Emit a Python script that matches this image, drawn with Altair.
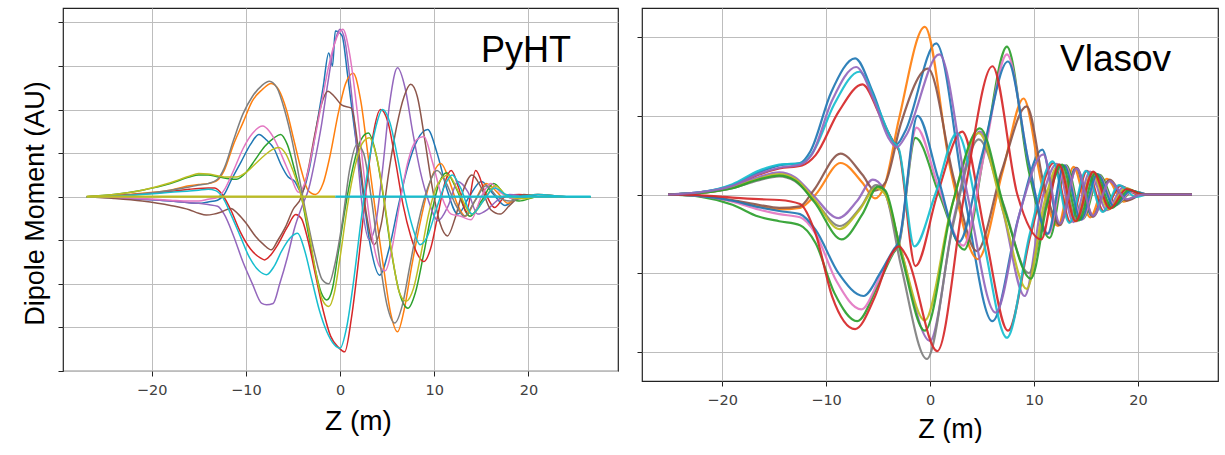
import altair as alt
import pandas as pd

TAB10 = {"blue": "#1f77b4", "orange": "#ff7f0e", "green": "#2ca02c", "red": "#d62728",
         "purple": "#9467bd", "brown": "#8c564b", "pink": "#e377c2", "gray": "#7f7f7f",
         "olive": "#bcbd22", "cyan": "#17becf"}

X_TICKS = [-20, -10, 0, 10, 20]
PYHT_Y_TICKS = [-4, -3, -2, -1, 0, 1, 2, 3, 4]
VLASOV_Y_TICKS = [-2, -1, 0, 1, 2]

# ---------------- PyHT panel (z [m], dipole moment in grid units) ----------------
pyht_blue = [(-26.9, 0), (-24, -0.02), (-21, -0.06), (-18, -0.1), (-16, -0.14), (-15, -0.15), (-14, -0.12),
             (-13, -0.08), (-12.3, 0.05), (-11.5, 0.4), (-10.5, 0.8), (-9.5, 1.2), (-8.6, 1.43), (-7.8, 1.3),
             (-7, 1.1), (-6.3, 0.75), (-5.5, 0.45), (-4.8, 0.35), (-4.1, 0.1), (-3.3, 0.6), (-2.5, 1.6),
             (-1.8, 2.5), (-1.2, 3.3), (-0.8, 3.0), (-0.5, 3.8), (0.2, 3.7), (0.8, 2.8), (1.5, 1.6), (2.3, 0.3),
             (3.2, -1.1), (4.2, -1.8), (5.2, -1.2), (6.2, -0.2), (7.2, 0.7), (8.2, 1.3), (9.3, 1.54), (10.3, 1.0),
             (11.3, 0.2), (12.5, -0.4), (13.7, 0.0), (15, 0.35), (16.3, 0.05), (17.5, -0.2), (19, 0.0),
             (21, 0.05), (24, 0.0), (26.6, 0)]
pyht_orange = [(-26.9, 0), (-24, 0.02), (-21, 0.08), (-18, 0.15), (-16, 0.25), (-15, 0.28), (-14, 0.3),
               (-13, 0.38), (-12.3, 0.6), (-11.3, 1.2), (-10.3, 1.7), (-9.3, 2.2), (-8.3, 2.45), (-7.3, 2.6),
               (-6.5, 2.45), (-5.7, 2.0), (-4.9, 1.3), (-4.1, 0.6), (-3.4, 0.15), (-2.6, 0.05), (-1.8, 0.3),
               (-1.0, 1.0), (-0.2, 1.9), (0.6, 2.6), (1.4, 2.83), (2.2, 2.2), (3.0, 0.9), (3.8, -0.4),
               (4.6, -1.6), (5.4, -2.7), (6.1, -3.1), (6.8, -2.6), (7.6, -1.6), (8.5, -0.6), (9.5, 0.3),
               (10.7, 0.76), (11.7, 0.3), (12.5, -0.2), (13.3, -0.45), (14.3, -0.1), (15.5, 0.3), (16.7, 0.1),
               (17.8, -0.15), (19, 0.0), (21, 0.05), (24, 0), (26.6, 0)]
pyht_green = [(-26.9, 0), (-24, 0.05), (-21, 0.15), (-18, 0.3), (-16, 0.45), (-15, 0.5), (-14, 0.5),
              (-13, 0.46), (-12, 0.42), (-11, 0.4), (-10, 0.55), (-9, 0.85), (-8, 1.15), (-7, 1.35),
              (-6.3, 1.43), (-5.6, 1.2), (-4.8, 0.6), (-4.1, 0.0), (-3.4, -0.8), (-2.7, -1.6), (-2.0, -2.2),
              (-1.4, -2.37), (-0.8, -2.1), (-0.2, -1.3), (0.6, -0.2), (1.4, 0.7), (2.2, 1.3), (3.0, 1.46),
              (3.8, 1.0), (4.6, 0.0), (5.4, -1.2), (6.3, -2.2), (7.2, -2.56), (8.0, -2.2), (8.8, -1.4),
              (9.6, -0.5), (10.5, 0.3), (11.3, 0.55), (12.3, 0.2), (13.8, -0.45), (15, -0.1), (16.3, 0.3),
              (17.5, 0.05), (19, -0.1), (21, 0), (24, 0), (26.6, 0)]
pyht_red = [(-26.9, 0), (-24, 0.02), (-21, 0.06), (-18, 0.12), (-16, 0.17), (-15, 0.19), (-14, 0.2),
            (-13.3, 0.2), (-12.5, 0.05), (-11.6, -0.3), (-10.6, -0.8), (-9.5, -1.2), (-8.5, -1.4), (-8.0, -1.45),
            (-7.4, -1.35), (-6.6, -1.1), (-5.6, -0.7), (-4.7, -0.41), (-4.1, -0.5), (-3.4, -1.0), (-2.6, -1.8),
            (-1.8, -2.6), (-1.0, -3.2), (-0.2, -3.45), (0.5, -3.56), (1.2, -2.8), (2.0, -1.4), (2.8, 0.2),
            (3.5, 1.4), (4.3, 2.0), (5.1, 1.7), (5.9, 0.8), (6.7, -0.2), (7.5, -0.9), (8.3, -1.35),
            (8.9, -1.49), (9.6, -1.2), (10.4, -0.4), (11.1, 0.3), (11.8, 0.6), (12.6, 0.2), (13.4, -0.35),
            (14.4, 0.6), (15.4, 0.1), (16.4, -0.25), (17.5, 0.0), (19, 0.05), (21, 0), (24, 0), (26.6, 0)]
pyht_purple = [(-26.9, 0), (-24, -0.02), (-21, -0.06), (-18, -0.1), (-16, -0.14), (-15, -0.15), (-14, -0.18),
               (-13, -0.22), (-12.3, -0.4), (-11.3, -0.9), (-10.3, -1.5), (-9.3, -2.0), (-8.3, -2.45),
               (-7.8, -2.48), (-7.1, -2.45), (-6.4, -2.0), (-5.6, -1.4), (-4.8, -0.7), (-4.0, -0.2), (-3.3, 0.2),
               (-2.6, 0.9), (-2.0, 1.6), (-1.3, 2.6), (-0.6, 3.5), (0.0, 3.84), (0.5, 3.6), (1.1, 2.6),
               (1.7, 1.3), (2.4, -0.3), (3.1, -0.99), (3.8, -0.6), (4.5, 0.6), (5.3, 2.2), (6.1, 2.96),
               (6.9, 2.5), (7.7, 1.5), (8.5, 0.6), (9.4, -0.1), (10.4, -0.55), (11.5, -0.2), (12.5, 0.35),
               (13.6, 0.1), (14.6, -0.4), (15.6, -0.3), (16.6, -0.1), (18, 0.05), (20, 0), (24, 0), (26.6, 0)]
pyht_brown = [(-26.9, 0), (-24, -0.04), (-21, -0.1), (-18, -0.2), (-16, -0.3), (-15, -0.38), (-14.2, -0.42),
              (-13.4, -0.4), (-12.6, -0.35), (-11.6, -0.27), (-10.8, -0.4), (-10, -0.6), (-9, -0.9),
              (-8.1, -1.1), (-7.3, -1.22), (-6.6, -1.0), (-5.8, -0.7), (-5, -0.3), (-4.1, 0.0), (-3.4, 0.6),
              (-2.7, 1.4), (-2.0, 2.1), (-1.3, 2.42), (-0.6, 2.3), (0.2, 2.1), (1.2, 2.03), (2.0, 1.0),
              (2.8, -0.4), (3.6, -1.1), (4.4, -0.6), (5.2, 0.6), (6.0, 1.6), (6.8, 2.3), (7.5, 2.58),
              (8.2, 2.3), (9.0, 1.3), (9.8, 0.2), (10.6, -0.6), (11.4, -0.9), (12.2, -0.5), (13, 0.1),
              (14, 0.5), (15, 0.2), (16, -0.3), (17, -0.4), (18, -0.2), (19.5, 0.05), (21, 0), (24, 0),
              (26.6, 0)]
pyht_pink = [(-26.9, 0), (-24, -0.01), (-21, -0.04), (-18, -0.08), (-16, -0.1), (-15, -0.1), (-14, -0.06),
             (-13, -0.02), (-12.3, 0.15), (-11.3, 0.6), (-10.3, 1.1), (-9.3, 1.45), (-8.2, 1.62), (-7.5, 1.5),
             (-6.8, 1.25), (-6.0, 0.85), (-5.2, 0.45), (-4.4, 0.1), (-3.6, 0.4), (-2.8, 1.2), (-2.0, 2.1),
             (-1.3, 2.9), (-0.6, 3.5), (0.3, 3.84), (1.0, 3.3), (1.8, 2.0), (2.6, 0.4), (3.4, -0.9),
             (4.2, -1.6), (4.8, -1.7), (5.5, -1.2), (6.3, -0.2), (7.2, 0.8), (8.1, 1.3), (8.9, 1.38),
             (9.8, 0.8), (10.8, 0.0), (11.8, -0.4), (12.8, -0.45), (13.9, -0.53), (15, 0.0), (16, 0.3),
             (17, 0.1), (18.5, -0.05), (21, 0), (24, 0), (26.6, 0)]
pyht_gray = [(-26.9, 0), (-24, 0.02), (-21, 0.07), (-18, 0.15), (-16, 0.22), (-15, 0.27), (-14, 0.3),
             (-13, 0.4), (-12.3, 0.65), (-11.3, 1.3), (-10.3, 1.9), (-9.3, 2.3), (-8.3, 2.55), (-7.5, 2.65),
             (-6.7, 2.5), (-5.9, 2.0), (-5.1, 1.3), (-4.3, 0.4), (-3.5, -0.5), (-2.7, -1.3), (-1.9, -1.9),
             (-1.2, -2.0), (-0.5, -1.5), (0.3, -0.5), (1.0, 0.6), (1.8, 1.2), (2.5, 1.0), (3.3, 0.0),
             (4.1, -1.3), (5.0, -2.5), (5.8, -2.9), (6.6, -2.5), (7.4, -1.6), (8.3, -0.6), (9.3, 0.2),
             (10.3, 0.6), (11.3, 0.3), (12.3, -0.2), (13.2, -0.45), (14.3, -0.1), (15.5, 0.25), (16.7, 0.0),
             (18, -0.1), (20, 0.0), (24, 0), (26.6, 0)]
pyht_olive = [(-26.9, 0), (-24, 0.05), (-21, 0.15), (-18, 0.32), (-16, 0.47), (-15, 0.53), (-14, 0.52),
              (-13, 0.48), (-12, 0.45), (-11, 0.45), (-10, 0.55), (-9, 0.75), (-8, 0.95), (-7.2, 1.08),
              (-6.5, 1.13), (-5.8, 1.0), (-5, 0.6), (-4.1, 0.0), (-3.3, -0.8), (-2.6, -1.7), (-1.9, -2.35),
              (-1.2, -2.52), (-0.6, -2.2), (0.0, -1.4), (0.8, -0.2), (1.6, 0.7), (2.3, 1.2), (3.1, 1.35),
              (3.9, 0.9), (4.7, -0.1), (5.5, -1.3), (6.3, -2.2), (7.0, -2.4), (7.8, -2.1), (8.6, -1.3),
              (9.4, -0.4), (10.4, 0.3), (11.5, 0.5), (12.6, 0.1), (14, -0.4), (15.2, -0.1), (16.5, 0.25),
              (17.8, 0.0), (19.5, -0.05), (21, 0), (24, 0), (26.6, 0)]
pyht_cyan = [(-26.9, 0), (-24, 0.01), (-21, 0.05), (-18, 0.1), (-16, 0.13), (-15, 0.15), (-14, 0.17),
             (-13.2, 0.14), (-12.5, 0.0), (-11.6, -0.4), (-10.6, -0.9), (-9.6, -1.4), (-8.6, -1.7),
             (-7.8, -1.79), (-7.0, -1.6), (-6.2, -1.25), (-5.3, -0.95), (-4.5, -0.84), (-3.8, -1.2),
             (-3.0, -1.9), (-2.2, -2.6), (-1.4, -3.1), (-0.6, -3.4), (0.0, -3.48), (0.7, -3.0), (1.4, -2.0),
             (2.2, -0.6), (3.0, 0.7), (3.8, 1.6), (4.5, 2.0), (5.3, 1.7), (6.1, 0.9), (6.9, 0.0), (7.7, -0.7),
             (8.5, -1.1), (9.3, -0.9), (10.2, -0.3), (11.2, 0.3), (11.9, 0.5), (12.8, 0.2), (14, -0.4),
             (15.2, -0.1), (16.4, 0.2), (17.6, 0.05), (19, 0.0), (21, 0.05), (24, 0), (26.6, 0)]
pyht_flat_olive = [(-26.9, 0), (-0.5, 0)]
pyht_flat_cyan = [(-0.5, 0), (26.6, 0)]

PYHT_CURVES = [("p01", "blue", pyht_blue), ("p02", "orange", pyht_orange), ("p03", "green", pyht_green),
               ("p04", "red", pyht_red), ("p05", "purple", pyht_purple), ("p06", "brown", pyht_brown),
               ("p07", "pink", pyht_pink), ("p08", "gray", pyht_gray), ("p09", "olive", pyht_olive),
               ("p10", "cyan", pyht_cyan)]
PYHT_FLATS = [("f1", "olive", pyht_flat_olive), ("f2", "cyan", pyht_flat_cyan)]

# ---------------- Vlasov panel ----------------
vl_blue_a = [(-25.2, 0), (-22, 0.03), (-19, 0.12), (-16.5, 0.28), (-14.5, 0.37), (-12.5, 0.40), (-11.5, 0.55),
             (-9.5, 1.3), (-7.2, 1.73), (-5.5, 1.3), (-4.0, 0.78), (-3.2, 0.64), (-2.4, 0.8), (0.6, 1.92),
             (3.3, 0.0), (6.0, -1.61), (8.5, -0.3), (10.8, 0.57), (12.4, -0.38), (14.0, 0.34), (15.6, -0.28),
             (17.2, 0.18), (18.8, -0.07), (20.5, 0), (25.2, 0)]
vl_purple_b = [(-25.2, 0), (-22, 0.03), (-19, 0.11), (-16.5, 0.26), (-14.5, 0.34), (-12.5, 0.38), (-11.4, 0.5),
               (-9.4, 1.2), (-7.1, 1.62), (-5.4, 1.2), (-4.0, 0.72), (-3.2, 0.60), (-2.3, 0.75), (0.9, 1.78),
               (3.6, 0.0), (6.3, -1.5), (8.7, -0.2), (10.9, 0.51), (12.5, -0.37), (14.1, 0.33), (15.7, -0.27),
               (17.3, 0.17), (18.9, -0.06), (20.5, 0), (25.2, 0)]
vl_cyan_a = [(-25.2, 0), (-22, 0.03), (-19, 0.13), (-16.5, 0.30), (-14.5, 0.38), (-12.3, 0.40), (-11.2, 0.55),
             (-9.2, 1.15), (-6.8, 1.56), (-5.0, 1.1), (-3.6, 0.68), (-3.0, 0.58), (-1.5, -0.66), (0.5, 0.0),
             (2.6, 0.78), (5.0, -0.5), (7.4, -1.82), (9.6, -0.5), (11.8, 0.42), (13.4, -0.36), (15.0, 0.3),
             (16.6, -0.22), (18.2, 0.12), (19.8, -0.03), (21, 0), (25.2, 0)]
vl_red_a = [(-25.2, 0), (-22, 0.02), (-19, 0.1), (-16.5, 0.25), (-14.5, 0.33), (-12.3, 0.37), (-11.0, 0.5),
            (-8.8, 1.05), (-6.5, 1.40), (-4.8, 1.0), (-3.5, 0.66), (-3.0, 0.56), (-1.4, -0.91), (0.7, 0.0),
            (3.1, 0.80), (5.3, -0.5), (7.5, -1.73), (9.7, -0.5), (11.9, 0.4), (13.5, -0.35), (15.1, 0.3),
            (16.7, -0.21), (18.3, 0.11), (20, 0), (25.2, 0)]
vl_blue_b = [(-25.2, 0), (-22, -0.02), (-19, -0.08), (-16.5, -0.16), (-14.5, -0.21), (-12.5, -0.25),
             (-11.0, -0.45), (-8.8, -1.0), (-6.4, -1.29), (-4.8, -1.0), (-3.5, -0.70), (-3.0, -0.60),
             (-1.2, 1.0), (0.8, 0.2), (2.8, -0.6), (5.0, 0.5), (7.5, 1.69), (9.5, 0.4), (11.3, -0.5),
             (12.9, 0.37), (14.5, -0.32), (16.1, 0.26), (17.7, -0.15), (19.3, 0.05), (21, 0), (25.2, 0)]
vl_pink_a = [(-25.2, 0), (-22, -0.02), (-19, -0.09), (-16.5, -0.19), (-14.5, -0.25), (-12.5, -0.29),
             (-11.0, -0.5), (-9.0, -1.1), (-6.6, -1.46), (-4.8, -1.05), (-3.5, -0.72), (-3.0, -0.62),
             (-1.3, 0.85), (0.8, 0.1), (3.2, -0.65), (5.2, 0.5), (7.4, 1.78), (9.5, 0.4), (11.4, -0.5),
             (13.0, 0.37), (14.6, -0.32), (16.2, 0.25), (17.8, -0.14), (19.4, 0.04), (21, 0), (25.2, 0)]
vl_green_a = [(-25.2, 0), (-22, -0.03), (-19, -0.13), (-16.5, -0.28), (-14.5, -0.34), (-12.5, -0.39),
              (-11.0, -0.62), (-9.2, -1.25), (-7.0, -1.61), (-5.0, -1.15), (-3.5, -0.74), (-3.0, -0.64),
              (-1.4, 0.72), (0.9, 0.0), (3.3, -0.70), (5.3, 0.6), (7.4, 1.88), (9.5, 0.3), (11.5, -0.55),
              (13.1, 0.37), (14.7, -0.31), (16.3, 0.25), (17.9, -0.13), (19.5, 0.04), (21, 0), (25.2, 0)]
vl_red_b = [(-25.2, 0), (-22, -0.01), (-19, -0.04), (-16.5, -0.06), (-14.5, -0.07), (-12.5, -0.12),
            (-11.0, -0.5), (-9.4, -1.3), (-7.2, -1.71), (-5.3, -1.3), (-3.8, -0.78), (-3.0, -0.66),
            (-2.2, -0.8), (0.7, -1.99), (3.3, 0.0), (6.0, 1.63), (8.4, 0.0), (10.7, -0.57), (12.4, 0.38),
            (14.0, -0.34), (15.7, 0.29), (17.3, -0.18), (18.9, 0.07), (20.5, 0), (25.2, 0)]
vl_orange_a = [(-25.2, 0), (-22, -0.02), (-19, -0.08), (-16.5, -0.15), (-14.5, -0.19), (-12.5, -0.17),
               (-11.0, 0.0), (-8.6, 0.40), (-6.5, 0.15), (-5.3, -0.05), (-4.4, 0.1), (-3.0, 0.95),
               (-0.5, 2.13), (2.0, 0.3), (4.6, -0.82), (7.0, 0.3), (9.0, 1.22), (10.8, 0.1), (12.3, -0.4),
               (13.8, 0.35), (15.4, -0.29), (17.0, 0.2), (18.6, -0.09), (20.2, 0), (25.2, 0)]
vl_brown_a = [(-25.2, 0), (-22, -0.02), (-19, -0.07), (-16.5, -0.13), (-14.5, -0.17), (-12.5, -0.15),
              (-11.2, 0.05), (-8.6, 0.52), (-6.5, 0.25), (-5.3, 0.05), (-4.3, 0.15), (-2.8, 0.9),
              (-0.2, 1.6), (2.3, 0.2), (4.5, -0.72), (6.9, 0.3), (9.3, 1.12), (11.0, 0.1), (12.5, -0.39),
              (14.1, 0.34), (15.7, -0.28), (17.3, 0.19), (18.9, -0.08), (20.5, 0), (25.2, 0)]
vl_purple_a = [(-25.2, 0), (-22, 0.03), (-19, 0.1), (-16.5, 0.22), (-14.5, 0.28), (-13.0, 0.22), (-11.3, 0.0),
               (-8.8, -0.30), (-7.0, -0.08), (-5.5, 0.19), (-4.5, 0.08), (-3.0, -0.6), (0.0, -1.86),
               (2.3, -0.3), (4.8, 0.8), (7.0, -0.2), (9.1, -1.29), (10.9, 0.0), (12.2, 0.39), (13.8, -0.35),
               (15.4, 0.29), (17.0, -0.2), (18.6, 0.09), (20.2, 0), (25.2, 0)]
vl_olive_a = [(-25.2, 0), (-22, 0.02), (-19, 0.09), (-16.5, 0.2), (-14.5, 0.26), (-13.0, 0.2), (-11.2, -0.05),
              (-8.7, -0.44), (-6.8, -0.2), (-5.2, 0.08), (-4.3, 0.0), (-2.8, -0.7), (-0.5, -1.6), (2.0, -0.2),
              (4.7, 0.78), (7.0, -0.2), (9.3, -1.2), (11.0, -0.1), (12.4, 0.38), (14.0, -0.34), (15.6, 0.28),
              (17.2, -0.19), (18.8, 0.08), (20.4, 0), (25.2, 0)]
vl_green_b = [(-25.2, 0), (-22, 0.02), (-19, 0.08), (-16.5, 0.19), (-14.5, 0.24), (-13.0, 0.18), (-11.1, -0.1),
              (-8.5, -0.57), (-6.5, -0.25), (-5.0, 0.1), (-4.3, 0.05), (-2.7, -0.8), (-0.5, -1.73), (2.2, -0.1),
              (4.8, 0.84), (7.2, -0.2), (9.7, -1.07), (11.3, -0.1), (12.7, 0.38), (14.3, -0.33), (15.9, 0.27),
              (17.5, -0.17), (19.1, 0.06), (20.7, 0), (25.2, 0)]
vl_gray_a = [(-25.2, 0), (-22, 0.02), (-19, 0.08), (-16.5, 0.18), (-14.5, 0.23), (-13.0, 0.17), (-11.2, -0.06),
             (-8.7, -0.4), (-6.6, -0.15), (-5.2, 0.12), (-4.4, 0.05), (-2.8, -0.9), (-0.3, -2.09), (2.2, -0.4),
             (4.7, 0.7), (7.0, -0.1), (9.5, -1.0), (11.2, -0.1), (12.5, 0.38), (14.1, -0.34), (15.7, 0.28),
             (17.3, -0.18), (18.9, 0.07), (20.5, 0), (25.2, 0)]

VLASOV_CURVES = [("v01", "blue", vl_blue_a), ("v02", "orange", vl_orange_a), ("v03", "green", vl_green_a),
                 ("v04", "red", vl_red_a), ("v05", "purple", vl_purple_a), ("v06", "brown", vl_brown_a),
                 ("v07", "pink", vl_pink_a), ("v08", "gray", vl_gray_a), ("v09", "olive", vl_olive_a),
                 ("v10", "cyan", vl_cyan_a), ("v11", "blue", vl_blue_b), ("v12", "green", vl_green_b),
                 ("v13", "red", vl_red_b), ("v14", "purple", vl_purple_b)]


def to_frame(curves):
    rows = []
    for name, _, pts in curves:
        for z, v in pts:
            rows.append({"series": name, "z": z, "v": v})
    return pd.DataFrame(rows)


def color_scale(curves):
    return alt.Scale(domain=[c[0] for c in curves], range=[TAB10[c[1]] for c in curves])


FONT = "Liberation Sans"

px = alt.X("z:Q", scale=alt.Scale(domain=[-29.4, 29.5], nice=False, zero=False),
           axis=alt.Axis(values=X_TICKS, format="d", title="Z (m)", titleX=295, titleY=50,
                         titleAlign="center", titleBaseline="middle", titleFontSize=28, grid=True))
py = alt.Y("v:Q", scale=alt.Scale(domain=[-4.0, 4.33], nice=False, zero=False),
           axis=alt.Axis(values=PYHT_Y_TICKS, labels=False, title="Dipole Moment (AU)", titleAngle=270,
                         titleX=-28, titleY=195, titleAlign="center", titleBaseline="middle",
                         titleFontSize=27, grid=True))

left_lines = alt.Chart(to_frame(PYHT_CURVES)).mark_line(interpolate="monotone", strokeWidth=1.5).encode(
    x=px, y=py,
    color=alt.Color("series:N", scale=color_scale(PYHT_CURVES), legend=None),
    detail="series:N",
)
left_flats = alt.Chart(to_frame(PYHT_FLATS)).mark_line(strokeWidth=2.2).encode(
    x=px, y=py,
    color=alt.Color("series:N", scale=color_scale(PYHT_FLATS), legend=None),
    detail="series:N",
)

left_label = alt.Chart(pd.DataFrame({"t": ["PyHT"]})).mark_text(
    align="left", baseline="alphabetic", fontSize=36, font=FONT, color="black"
).encode(x=alt.value(418), y=alt.value(54), text="t:N")

left = alt.layer(left_lines, left_flats, left_label).resolve_scale(color="independent").properties(
    width=555, height=363)

right_lines = alt.Chart(to_frame(VLASOV_CURVES)).mark_line(interpolate="monotone", strokeWidth=2.2,
                                                            opacity=0.92).encode(
    x=alt.X("z:Q", scale=alt.Scale(domain=[-27.7, 27.7], nice=False, zero=False),
            axis=alt.Axis(values=X_TICKS, format="d", title="Z (m)", titleX=308, titleY=48,
                          titleAlign="center", titleBaseline="middle", titleFontSize=27, grid=True)),
    y=alt.Y("v:Q", scale=alt.Scale(domain=[-2.37, 2.37], nice=False, zero=False),
            axis=alt.Axis(values=VLASOV_Y_TICKS, labels=False, title=None, grid=True)),
    color=alt.Color("series:N", scale=color_scale(VLASOV_CURVES), legend=None),
    detail="series:N",
)

right_label = alt.Chart(pd.DataFrame({"t": ["Vlasov"]})).mark_text(
    align="left", baseline="alphabetic", fontSize=37, font=FONT, color="black"
).encode(x=alt.value(418), y=alt.value(63), text="t:N")

right = alt.layer(right_lines, right_label).properties(width=576, height=373)

chart = alt.hconcat(left, right, spacing=16).properties(
    padding={"left": 20, "top": 7, "right": 5, "bottom": 0}
).configure(background="white").configure_view(
    stroke="#222222", strokeWidth=1.2
).configure_axis(
    domain=False, tickColor="#222222", tickSize=5, tickWidth=1, gridColor="#bdbdbd", gridWidth=1,
    labelFont="DejaVu Sans", labelFontSize=14.5, labelColor="#404040", labelPadding=7,
    titleFont=FONT, titleFontWeight="normal", titleColor="black"
)

chart.save("out.html", embed_options={"renderer": "svg", "actions": False})
